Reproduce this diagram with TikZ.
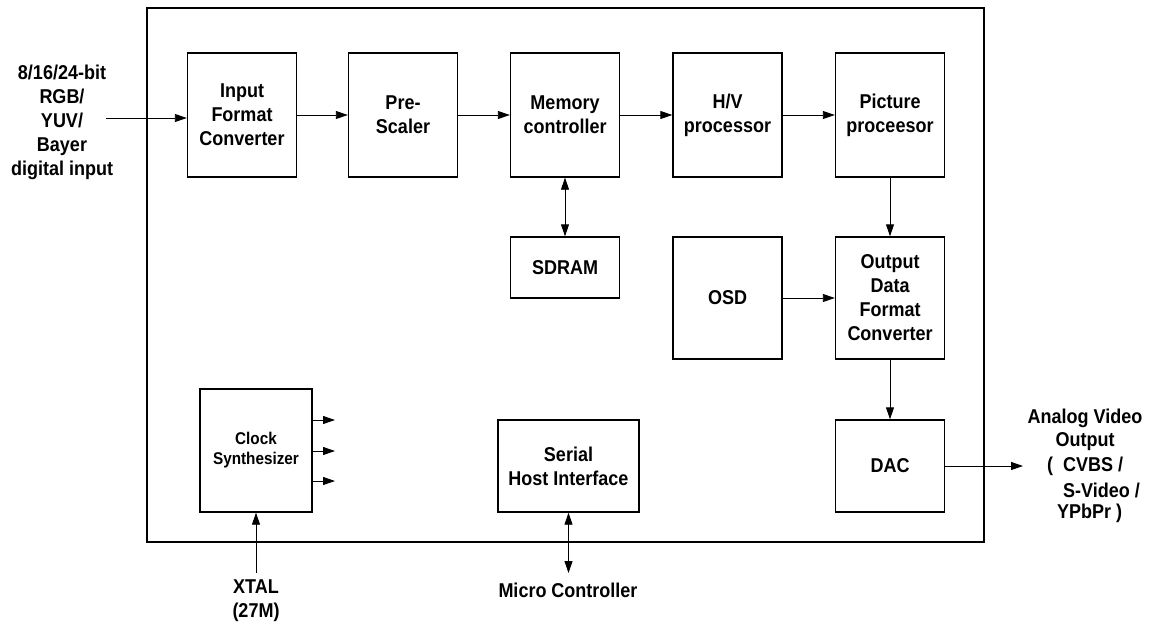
\documentclass[tikz,border=0pt]{standalone}
\usepackage{fontspec}
\setmainfont[FakeStretch=0.9]{Liberation Sans}
\usetikzlibrary{arrows.meta}
\begin{document}
\begin{tikzpicture}[x=1pt,y=-1pt,
  blk/.style={draw,line width=1.4pt,inner sep=0pt,align=center,font=\fontsize{20}{24}\selectfont\bfseries},
  lbl/.style={inner sep=0pt,align=center,font=\fontsize{20}{24}\selectfont\bfseries},
  arr/.style={line width=0.9pt,-{Triangle[length=12pt,width=8pt]}},
  barr/.style={line width=0.9pt,{Triangle[length=12pt,width=8pt]}-{Triangle[length=12pt,width=8pt]}}]
\useasboundingbox (0,0) rectangle (1150,627);
\draw[line width=1.4pt] (147,8) rectangle (984,542);
% top row
\node[blk,minimum width=109pt,minimum height=124pt] (ifc) at (242,115) {Input\\Format\\Converter};
\node[blk,minimum width=109pt,minimum height=124pt] (pre) at (403,115) {Pre-\\Scaler};
\node[blk,minimum width=109pt,minimum height=124pt] (mem) at (565,115) {Memory\\controller};
\node[blk,minimum width=109pt,minimum height=124pt] (hv) at (727.5,115) {H/V\\processor};
\node[blk,minimum width=109pt,minimum height=124pt] (pic) at (890,115) {Picture\\proceesor};
% middle
\node[blk,minimum width=109pt,minimum height=61pt] (sdram) at (565,267.5) {SDRAM};
\node[blk,minimum width=109pt,minimum height=122pt] (osd) at (727.5,298) {OSD};
\node[blk,minimum width=109pt,minimum height=122pt] (odf) at (890,298) {Output\\Data\\Format\\Converter};
% bottom
\node[blk,minimum width=109pt,minimum height=92pt] (dac) at (890,466) {DAC};
\node[blk,minimum width=112pt,minimum height=123pt,font=\fontsize{17}{20}\selectfont\bfseries] (clk) at (256,450.5) {Clock\\Synthesizer};
\node[blk,minimum width=141pt,minimum height=92pt] (shi) at (568.5,466) {Serial\\Host Interface};
% outside labels
\node[lbl] (inlbl) at (62,122) {8/16/24-bit\\RGB/\\YUV/\\Bayer\\digital input};
\node[lbl] (xtal) at (256,601) {XTAL\\(27M)};
\node[lbl] (mcu) at (568,590) {Micro Controller};
\node[lbl] (ao1) at (1085,418) {Analog Video};
\node[lbl] (ao2) at (1085,442) {Output};
\node[lbl,anchor=west] (ao3) at (1047,466) {(\ \ CVBS /};
\node[lbl,anchor=west] (ao4) at (1063,490) {S-Video /};
\node[lbl,anchor=west] (ao5) at (1057,513) {YPbPr )};
% coordinates
\coordinate (inS) at (106,118);
\coordinate (outE) at (1023,466);
\coordinate (xS) at (256,573);
\coordinate (mS) at (568.5,573);
\coordinate (c1) at (335,420);
\coordinate (c2) at (335,451);
\coordinate (c3) at (335,481);
% connectors
\draw[arr] (inS) -- (inS -| ifc.west);
\draw[arr] (ifc.east) -- (pre.west);
\draw[arr] (pre.east) -- (mem.west);
\draw[arr] (mem.east) -- (hv.west);
\draw[arr] (hv.east) -- (pic.west);
\draw[barr] (mem.south) -- (sdram.north);
\draw[arr] (pic.south) -- (odf.north);
\draw[arr] (osd.east) -- (odf.west);
\draw[arr] (odf.south) -- (dac.north);
\draw[arr] (dac.east) -- (outE);
\draw[arr] (c1 -| clk.east) -- (c1);
\draw[arr] (c2 -| clk.east) -- (c2);
\draw[arr] (c3 -| clk.east) -- (c3);
\draw[arr] (xS) -- (clk.south);
\draw[barr] (shi.south) -- (mS);
\end{tikzpicture}
\end{document}
